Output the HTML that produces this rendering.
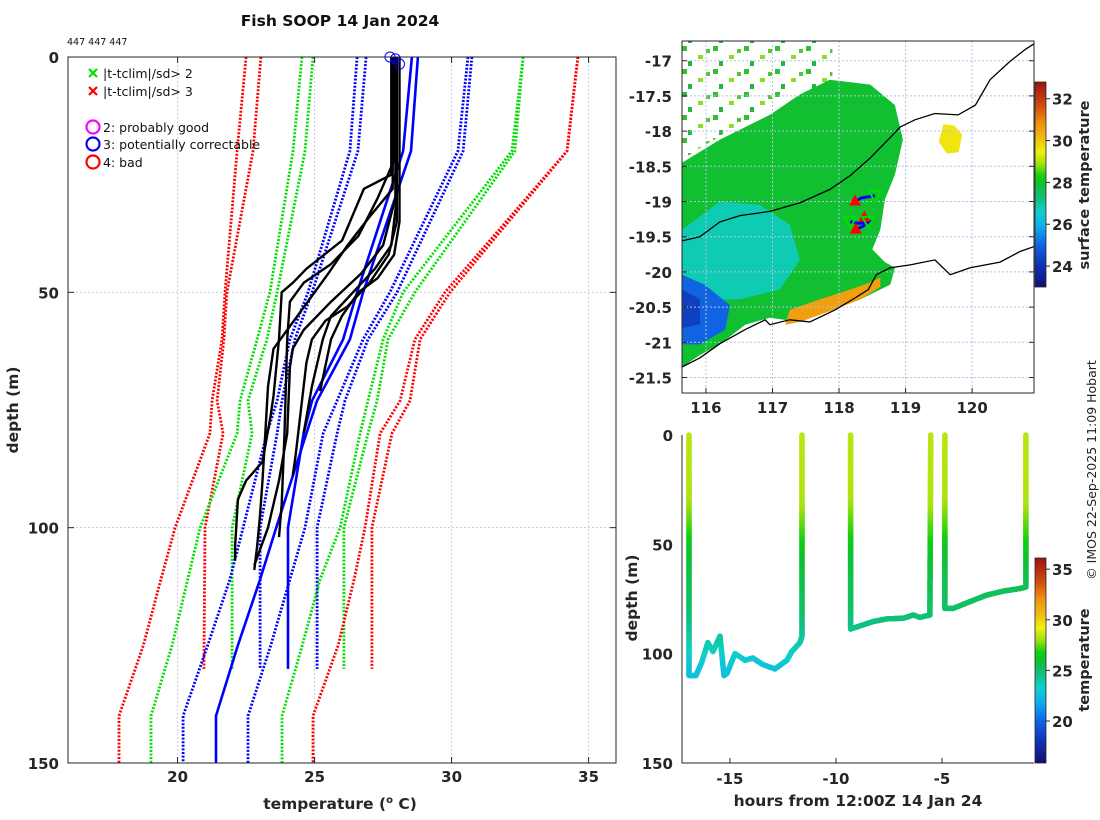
<!DOCTYPE html>
<html><head><meta charset="utf-8"><title>Fish SOOP 14 Jan 2024</title>
<style>
html,body{margin:0;padding:0;background:#fff;}
svg{display:block;font-family:"DejaVu Sans","Liberation Sans",sans-serif;}
.tk{font-size:15px;font-weight:bold;fill:#262626;}
.lb{font-size:15.5px;font-weight:bold;fill:#262626;}
</style></head>
<body>
<svg id="root" width="1100" height="820" viewBox="0 0 1100 820" xmlns="http://www.w3.org/2000/svg">
<defs>
<linearGradient id="cmap" x1="0" y1="1" x2="0" y2="0">
<stop offset="0" stop-color="#101070"/><stop offset="0.1" stop-color="#1030b0"/><stop offset="0.2" stop-color="#1060e0"/>
<stop offset="0.3" stop-color="#10b0f0"/><stop offset="0.37" stop-color="#10d0c8"/><stop offset="0.43" stop-color="#10c080"/>
<stop offset="0.5" stop-color="#10c030"/><stop offset="0.54" stop-color="#10d010"/><stop offset="0.6" stop-color="#a0e010"/>
<stop offset="0.66" stop-color="#f0f010"/><stop offset="0.72" stop-color="#f0c010"/><stop offset="0.8" stop-color="#f09010"/>
<stop offset="0.88" stop-color="#d05010"/><stop offset="1" stop-color="#a01010"/>
</linearGradient>
<pattern id="sparse" width="31" height="23" patternUnits="userSpaceOnUse">
<rect x="0" y="0" width="5" height="5" fill="#30c030"/><rect x="16" y="9" width="5" height="4" fill="#90dc20"/>
<rect x="6" y="15" width="4" height="5" fill="#20b840"/><rect x="24" y="3" width="4" height="4" fill="#50c830"/>
</pattern>
<clipPath id="mapclip"><rect x="682" y="41" width="352" height="352"/></clipPath>
<clipPath id="leftclip"><rect x="68" y="57" width="548" height="706"/></clipPath>
</defs>

<text x="340" y="26" text-anchor="middle" style="font-size:15.5px;font-weight:bold;fill:#111">Fish SOOP 14 Jan 2024</text>
<text x="67" y="45" style="font-size:9.5px;fill:#111">447 447 447</text>

<g id="left"></g>
<g id="map"></g>
<g id="bottom"></g>

<text transform="translate(1096,470) rotate(-90)" text-anchor="middle" style="font-size:12.5px;fill:#222">© IMOS 22-Sep-2025 11:09 Hobart</text>
</svg>

<script>
// ===== LEFT PANEL DATA =====
const depthA = [0, 20, 50, 60, 73, 80, 100, 111, 125, 140, 150];
const redLoA   = [22.50, 22.17, 21.73, 21.62, 21.26, 21.18, 19.91, 19.39, 18.75, 17.86, 17.86];
const greenLoA = [24.54, 24.21, 23.37, 22.90, 22.28, 22.17, 20.82, 20.37, 19.80, 19.03, 19.03];
const blueLoA  = [26.55, 26.29, 24.76, 24.10, 23.63, 23.26, 22.39, 21.91, 21.10, 20.20, 20.20];
const meanA    = [28.77, 28.52, 26.77, 26.29, 25.09, 24.70, 23.60, 23.01, 22.20, 21.40, 21.40];
const blueHiA  = [30.60, 30.23, 27.75, 26.77, 25.82, 25.31, 24.65, 24.10, 23.40, 22.57, 22.57];
const greenHiA = [32.61, 32.20, 28.23, 27.50, 26.95, 26.66, 25.93, 25.20, 24.55, 23.81, 23.81];
const redHiA   = [34.61, 34.21, 29.76, 28.66, 28.12, 27.39, 26.84, 26.44, 25.86, 24.94, 24.94];

const depthB = [0, 20, 50, 60, 73, 80, 100, 130];
const redLoB   = [23.04, 22.75, 21.80, 21.69, 21.44, 21.66, 21.00, 20.96];
const greenLoB = [24.94, 24.65, 23.63, 23.26, 22.57, 22.72, 21.99, 21.99];
const blueLoB  = [26.88, 26.58, 24.91, 24.28, 23.81, 23.63, 23.01, 23.01];
const meanB    = [28.55, 28.23, 26.55, 26.04, 24.91, 24.60, 24.03, 24.03];
const blueHiB  = [30.74, 30.42, 28.01, 26.95, 26.11, 25.82, 25.09, 25.09];
const greenHiB = [32.61, 32.31, 28.66, 27.68, 27.28, 26.95, 26.07, 26.07];
const redHiB   = [34.61, 34.21, 29.94, 28.85, 28.48, 27.82, 27.09, 27.09];

const p1Depth = [0,25,28,39,45,48,50,60,72,76,86,90,94,104,107];
const p1Temp  = [27.8,27.8,26.8,26.0,24.7,24.2,23.8,23.7,23.5,23.4,23.1,22.5,22.2,22.1,22.1];
const p2Depth = [0,22,30,38,44,48,52,60,80,95,102];
const p2Temp  = [27.9,27.9,27.3,26.6,25.6,24.6,24.1,24.0,23.9,23.8,23.7];
const p3Depth = [0,30,40,46,52,58,62,66,80,90,100,108];
const p3Temp  = [27.95,27.95,27.5,26.7,25.6,24.6,24.2,24.1,24.0,23.7,23.3,22.8];
const p4Depth = [0,35,42,48,53,56,60,65,75,85,89];
const p4Temp  = [28.0,28.0,27.7,27.0,26.2,25.4,24.9,24.7,24.5,24.3,24.2];
const p5Depth = [0,30,40,45,50,55,60,70,80];
const p5Temp  = [28.0,28.0,27.8,27.2,26.4,25.6,25.3,24.9,24.6];
const p6Depth = [0,35,42,47,50,55,60,71];
const p6Temp  = [28.1,28.1,27.9,27.3,26.6,26.0,25.6,25.2];
const p7Depth = [0,28,34,40,46,50,54,58,62,70,80,90,98,104,109];
const p7Temp  = [27.85,27.85,27.0,26.2,25.5,25.0,24.5,24.0,23.5,23.3,23.2,23.1,23.0,22.9,22.8];

const flagTemp  = [27.75, 27.95, 28.1];
const flagDepth = [0, 0.4, 1.5];

const tempTicks  = [20, 25, 30, 35];
const depthTicks = [0, 50, 100, 150];

// ===== MAP DATA =====
const lonTicks = [116, 117, 118, 119, 120];
const latTicks = [-17, -17.5, -18, -18.5, -19, -19.5, -20, -20.5, -21, -21.5];
const sstTicks = [24, 26, 28, 30, 32];
const coastNLon = [115.64,115.91,116.21,116.51,116.96,117.41,117.86,118.17,118.47,118.77,118.92,119.14,119.44,119.79,120.05,120.27,120.57,120.80,120.93];
const coastNLat = [-19.56,-19.50,-19.29,-19.20,-19.14,-19.02,-18.83,-18.63,-18.38,-18.09,-17.94,-17.84,-17.75,-17.77,-17.63,-17.27,-17.01,-16.84,-16.76];
const coastSLon = [115.64,115.91,116.21,116.59,116.89,116.96,117.26,117.56,117.94,118.24,118.44,118.56,118.77,119.07,119.44,119.67,119.97,120.42,120.72,120.93];
const coastSLat = [-21.35,-21.22,-21.02,-20.82,-20.68,-20.75,-20.68,-20.71,-20.54,-20.37,-20.25,-20.04,-19.94,-19.90,-19.83,-20.04,-19.94,-19.86,-19.71,-19.64];
const greenLon = [115.64,116.21,116.96,117.41,117.86,118.47,118.84,118.96,118.84,118.69,118.62,118.50,118.69,118.84,118.77,118.32,117.41,116.96,116.59,116.21,115.91,115.64];
const greenLat = [-18.45,-18.12,-17.77,-17.48,-17.27,-17.34,-17.63,-18.12,-18.62,-18.97,-19.40,-19.68,-19.86,-19.94,-20.18,-20.39,-20.71,-20.65,-20.75,-21.03,-21.18,-21.35];
const cyanLon = [115.64,116.21,116.81,117.26,117.41,117.11,116.51,115.91,115.64];
const cyanLat = [-19.40,-19.00,-19.05,-19.33,-19.83,-20.25,-20.39,-20.39,-20.39];
const blueLon = [115.64,115.98,116.36,116.29,115.91,115.64];
const blueLat = [-20.04,-20.18,-20.47,-20.82,-21.03,-21.03];
const dBlueLon = [115.64,115.91,115.91,115.64];
const dBlueLat = [-20.25,-20.39,-20.74,-20.80];
const orangeLon = [117.26,117.71,118.17,118.47,118.62,118.62,118.32,117.86,117.41,117.19];
const orangeLat = [-20.54,-20.39,-20.25,-20.15,-20.08,-20.21,-20.39,-20.56,-20.71,-20.75];
const yellowLon = [119.57,119.73,119.85,119.80,119.62,119.50];
const yellowLat = [-17.90,-17.92,-18.05,-18.30,-18.32,-18.15];
const fieldTemp = [27.9, 26.8, 25.0, 24.3, 30.6, 29.6];
const upLon = [118.24,118.25,118.38];
const upLat = [-19.00,-19.40,-19.23];
const downLon = [118.54,118.44,118.17];
const downLat = [-18.92,-19.29,-19.29];
const trackLon = [118.25,118.33,118.45,118.54, null, 118.17,118.30,118.44,118.36,118.25];
const trackLat = [-19.00,-18.95,-18.93,-18.92, null, -19.29,-19.31,-19.29,-19.35,-19.40];

// ===== DEPTH-TIME DATA =====
const castTime  = [-16.93,-16.93,-16.6,-16.33,-16.04,-15.8,-15.47,-15.28,-15.14,-14.76,-14.29,-13.92,-13.44,-12.88,-12.31,-12.08,-11.70,-11.60,-11.60, null,
                   -9.31,-9.31,-8.24,-7.61,-6.83,-6.35,-6.04,-5.57,-5.53, null,
                   -4.86,-4.86,-4.47,-3.68,-2.89,-2.11,-1.32,-1.04,-1.04];
const castDepth = [0,110,110,104,95,99,92,110,109,100,103,102,105,107,103,99,95,92,0, null,
                   0,88.7,85.3,84.1,83.8,82.3,83.4,82.3,0, null,
                   0,79.3,79.3,76.2,73.2,71.4,70.2,69.5,0];
const tprofDepth = [0, 30, 45, 55, 70, 80, 95, 105, 110];
const tprofTemp  = [28.4, 28.2, 27.0, 26.0, 25.3, 25.0, 23.8, 22.8, 22.6];
const hourTicks = [-15, -10, -5];
const cbTicks = [20, 25, 30, 35];

// ===== helpers =====
const NS = "http://www.w3.org/2000/svg";
function mk(tag, attrs, parent){ const e=document.createElementNS(NS,tag); for(const k in attrs) e.setAttribute(k,attrs[k]); parent.appendChild(e); return e; }
function interp(xs, ys, x){ if(x<=xs[0]) return ys[0]; for(let i=1;i<xs.length;i++){ if(x<=xs[i]){ const f=(x-xs[i-1])/(xs[i]-xs[i-1]); return ys[i-1]+f*(ys[i]-ys[i-1]); } } return ys[ys.length-1]; }
const cstops = [[0,[16,16,112]],[0.1,[16,48,176]],[0.2,[16,96,224]],[0.3,[16,176,240]],[0.37,[16,208,200]],[0.43,[16,192,128]],[0.5,[16,192,48]],[0.54,[16,208,16]],[0.6,[160,224,16]],[0.66,[240,240,16]],[0.72,[240,192,16]],[0.8,[240,144,16]],[0.88,[208,80,16]],[1,[160,16,16]]];
function cmap(f){ f=Math.max(0,Math.min(1,f)); for(let i=1;i<cstops.length;i++){ if(f<=cstops[i][0]){ const a=cstops[i-1],b=cstops[i]; const t=(f-a[0])/(b[0]-a[0]); const c=a[1].map((v,j)=>Math.round(v+t*(b[1][j]-v))); return `rgb(${c[0]},${c[1]},${c[2]})`; } } return "rgb(160,16,16)"; }

// ===== LEFT PANEL =====
(function(){
  const g = document.getElementById('left');
  const T0=16, T1=36, D0=0, D1=150, X0=68, X1=616, Y0=57, Y1=763;
  const xT = t => X0 + (t-T0)/(T1-T0)*(X1-X0);
  const yD = d => Y0 + (d-D0)/(D1-D0)*(Y1-Y0);
  tempTicks.forEach(t=>{ const l=mk('line',{x1:xT(t),x2:xT(t),y1:Y0,y2:Y1,stroke:'#c4cce6','stroke-width':1,'stroke-dasharray':'2 2'},g);
      });
  depthTicks.slice(1,3).forEach(d=>{ const l=mk('line',{x1:X0,x2:X1,y1:yD(d),y2:yD(d),stroke:'#c4cce6','stroke-width':1,'stroke-dasharray':'2 2'},g);
      });
  const cg = mk('g',{'clip-path':'url(#leftclip)'},g);
  function line(ds, ts, color, dashed, w, name){
    const pts = ds.map((d,i)=>xT(ts[i]).toFixed(1)+','+yD(d).toFixed(1)).join(' ');
    const p = mk('polyline',{points:pts,fill:'none',stroke:color,'stroke-width':w,'stroke-linejoin':'round'},cg);
    if(dashed) p.setAttribute('stroke-dasharray','2 1.6');
    
    
  }
  line(depthA, redLoA, '#ff0000', true, 2.8, 'clim-minus-3sd-a');
  line(depthB, redLoB, '#ff0000', true, 2.8, 'clim-minus-3sd-b');
  line(depthA, greenLoA, '#00e000', true, 2.8, 'clim-minus-2sd-a');
  line(depthB, greenLoB, '#00e000', true, 2.8, 'clim-minus-2sd-b');
  line(depthA, blueLoA, '#0000ff', true, 2.8, 'clim-minus-1sd-a');
  line(depthB, blueLoB, '#0000ff', true, 2.8, 'clim-minus-1sd-b');
  line(depthA, blueHiA, '#0000ff', true, 2.8, 'clim-plus-1sd-a');
  line(depthB, blueHiB, '#0000ff', true, 2.8, 'clim-plus-1sd-b');
  line(depthA, greenHiA, '#00e000', true, 2.8, 'clim-plus-2sd-a');
  line(depthB, greenHiB, '#00e000', true, 2.8, 'clim-plus-2sd-b');
  line(depthA, redHiA, '#ff0000', true, 2.8, 'clim-plus-3sd-a');
  line(depthB, redHiB, '#ff0000', true, 2.8, 'clim-plus-3sd-b');
  line(depthA, meanA, '#0000ff', false, 2.6, 'clim-mean-a');
  line(depthB, meanB, '#0000ff', false, 2.6, 'clim-mean-b');
  line(p1Depth,p1Temp,'#000',false,2.4,'xbt-profile-1');
  line(p2Depth,p2Temp,'#000',false,2.4,'xbt-profile-2');
  line(p3Depth,p3Temp,'#000',false,2.4,'xbt-profile-3');
  line(p4Depth,p4Temp,'#000',false,2.4,'xbt-profile-4');
  line(p5Depth,p5Temp,'#000',false,2.4,'xbt-profile-5');
  line(p6Depth,p6Temp,'#000',false,2.4,'xbt-profile-6');
  line(p7Depth,p7Temp,'#000',false,2.4,'xbt-profile-7');
  flagTemp.forEach((t,i)=>{ const c=mk('circle',{cx:xT(t),cy:yD(flagDepth[i]),r:5,fill:'none',stroke:'#0000ff','stroke-width':1},g);
      });
  const b=mk('rect',{x:X0,y:Y0,width:X1-X0,height:Y1-Y0,fill:'none',stroke:'#262626','stroke-width':1},g);
   
  tempTicks.forEach(t=>{
    mk('line',{x1:xT(t),x2:xT(t),y1:Y1,y2:Y1-6,stroke:'#262626'},g); mk('line',{x1:xT(t),x2:xT(t),y1:Y0,y2:Y0+6,stroke:'#262626'},g);
    const tx=mk('text',{x:xT(t),y:Y1+19,'text-anchor':'middle',class:'tk'},g); tx.textContent=t;
      });
  depthTicks.forEach(d=>{
    mk('line',{x1:X0,x2:X0+6,y1:yD(d),y2:yD(d),stroke:'#262626'},g); mk('line',{x1:X1,x2:X1-6,y1:yD(d),y2:yD(d),stroke:'#262626'},g);
    const tx=mk('text',{x:X0-9,y:yD(d)+6,'text-anchor':'end',class:'tk'},g); tx.textContent=d;
      });
  const xl=mk('text',{x:340,y:809,'text-anchor':'middle',class:'lb'},g);
  xl.innerHTML='temperature (<tspan dy="-6" font-size="10">o</tspan><tspan dy="6"> C)</tspan>';
   
  const yl=mk('text',{transform:'translate(18,410) rotate(-90)','text-anchor':'middle',class:'lb'},g); yl.textContent='depth (m)';
   
  const lg=mk('g',{},g);  
  function xmark(x,y,c){ mk('path',{d:`M${x-4},${y-4}L${x+4},${y+4}M${x-4},${y+4}L${x+4},${y-4}`,stroke:c,'stroke-width':2.2},lg); }
  function ltext(x,y,s,name){ const t=mk('text',{x:x,y:y,style:'font-size:12.5px;fill:#111'},lg); t.textContent=s;   }
  xmark(93,73,'#00e000'); ltext(103,78,'|t-tclim|/sd> 2','legend-entry-2sd');
  xmark(93,91,'#ff0000'); ltext(103,96,'|t-tclim|/sd> 3','legend-entry-3sd');
  [['#ff00ff',127,'2: probably good','legend-entry-flag-2'],['#0000ff',144,'3: potentially correctable','legend-entry-flag-3'],['#ff0000',162,'4: bad','legend-entry-flag-4']].forEach(a=>{
    mk('circle',{cx:93,cy:a[1],r:6.5,fill:'none',stroke:a[0],'stroke-width':2.2},lg); ltext(103,a[1]+5,a[2],a[3]); });
})();

// ===== MAP =====
(function(){
  const g=document.getElementById('map');
  const LON0=115.64, LON1=120.93, LAT0=-16.72, LAT1=-21.72, X0=682, X1=1034, Y0=41, Y1=393;
  const xL = lon => X0 + (lon-LON0)/(LON1-LON0)*(X1-X0);
  const yL = lat => Y0 + (LAT0-lat)/(LAT0-LAT1)*(Y1-Y0);
  const sst = t => cmap((t-23)/(32.8-23));
  const cg=mk('g',{'clip-path':'url(#mapclip)'},g);
  const sp=mk('polygon',{points:`${X0},${Y0} ${xL(117.9)},${Y0} ${xL(117.9)},${yL(-17.3)} ${xL(116.5)},${yL(-17.9)} ${X0},${yL(-18.4)}`,fill:'url(#sparse)'},cg);
   
  function poly(lons,lats,temp,name){ const p=mk('polygon',{points:lons.map((l,i)=>xL(l).toFixed(1)+','+yL(lats[i]).toFixed(1)).join(' '),fill:sst(temp)},cg);
      }
  poly(greenLon,greenLat,fieldTemp[0],'sst-field-main');
  poly(cyanLon,cyanLat,fieldTemp[1],'sst-field-cool');
  poly(blueLon,blueLat,fieldTemp[2],'sst-field-cold');
  poly(dBlueLon,dBlueLat,fieldTemp[3],'sst-field-coldest');
  poly(orangeLon,orangeLat,fieldTemp[4],'sst-field-warm-coastal');
  poly(yellowLon,yellowLat,fieldTemp[5],'sst-field-warm-offshore');
  lonTicks.forEach(l=>{ mk('line',{x1:xL(l),x2:xL(l),y1:Y0,y2:Y1,stroke:'#b8c0e0','stroke-dasharray':'2 2'},cg); });
  latTicks.forEach(l=>{ mk('line',{x1:X0,x2:X1,y1:yL(l),y2:yL(l),stroke:'#b8c0e0','stroke-dasharray':'2 2'},cg); });
  function pl(lons,lats,name){ const p=mk('polyline',{points:lons.map((l,i)=>xL(l).toFixed(1)+','+yL(lats[i]).toFixed(1)).join(' '),fill:'none',stroke:'#000','stroke-width':1.3},cg);
      }
  pl(coastNLon,coastNLat,'isobath-line'); pl(coastSLon,coastSLat,'coastline');
  let d=''; let pen=false;
  trackLon.forEach((l,i)=>{ if(l===null){pen=false;return;} d+=(pen?'L':'M')+xL(l).toFixed(1)+','+yL(trackLat[i]).toFixed(1); pen=true; });
  const tr=mk('path',{d:d,fill:'none',stroke:'#0000ff','stroke-width':3},cg);  
  upLon.forEach((l,i)=>{ const x=xL(l),y=yL(upLat[i]); const p=mk('polygon',{points:`${x},${y-7} ${x-6},${y+4} ${x+6},${y+4}`,fill:'#ff0000'},cg);
      });
  downLon.forEach((l,i)=>{ const x=xL(l),y=yL(downLat[i]); const p=mk('polygon',{points:`${x-6},${y-5} ${x+6},${y-5} ${x},${y+6}`,fill:'none',stroke:'#00e000','stroke-width':2},cg);
      });
  const fr=mk('rect',{x:X0,y:Y0,width:X1-X0,height:Y1-Y0,fill:'none',stroke:'#262626'},g);  
  lonTicks.forEach(l=>{ mk('line',{x1:xL(l),x2:xL(l),y1:Y1,y2:Y1-5,stroke:'#262626'},g);
    const t=mk('text',{x:xL(l),y:Y1+20,'text-anchor':'middle',class:'tk'},g); t.textContent=l;
      });
  latTicks.forEach(l=>{ mk('line',{x1:X0,x2:X0+5,y1:yL(l),y2:yL(l),stroke:'#262626'},g); mk('line',{x1:X1,x2:X1-5,y1:yL(l),y2:yL(l),stroke:'#262626'},g);
    const t=mk('text',{x:X0-10,y:yL(l)+6,'text-anchor':'end',class:'tk'},g); t.textContent=l;
      });
  const cy = t => 287 - (t-23)/(32.8-23)*205;
  const cb=mk('rect',{x:1035,y:82,width:11,height:205,fill:'url(#cmap)',stroke:'#262626','stroke-width':0.8},g);
   
  sstTicks.forEach(t=>{ mk('line',{x1:1046,x2:1050,y1:cy(t),y2:cy(t),stroke:'#262626'},g);
    const tx=mk('text',{x:1052,y:cy(t)+6,class:'tk'},g); tx.textContent=t;
      });
  const lt=mk('text',{transform:'translate(1089,185) rotate(-90)','text-anchor':'middle',class:'lb',style:'font-size:14.5px'},g); lt.textContent='surface temperature';
   
})();

// ===== DEPTH-TIME PANEL =====
(function(){
  const g=document.getElementById('bottom');
  const T0=-17.26, T1=-0.66, D0=0, D1=150, X0=682, X1=1034, Y0=435, Y1=763;
  const xH = t => X0 + (t-T0)/(T1-T0)*(X1-X0);
  const yD = d => Y0 + (d-D0)/(D1-D0)*(Y1-Y0);
  const CT0=15.85, CT1=36.1;
  const col = t => cmap((t-CT0)/(CT1-CT0));
  const pg=mk('g',{},g);  
  for(let i=1;i<castTime.length;i++){
    if(castTime[i]===null||castTime[i-1]===null) continue;
    const xa=xH(castTime[i-1]),ya=yD(castDepth[i-1]),xb=xH(castTime[i]),yb=yD(castDepth[i]);
    const n=Math.max(1,Math.ceil(Math.hypot(xb-xa,yb-ya)/2));
    for(let k=0;k<n;k++){
      const f0=k/n,f1=(k+1)/n;
      const dm=castDepth[i-1]+(castDepth[i]-castDepth[i-1])*(f0+f1)/2;
      mk('line',{x1:(xa+(xb-xa)*f0).toFixed(1),y1:(ya+(yb-ya)*f0).toFixed(1),x2:(xa+(xb-xa)*f1).toFixed(1),y2:(ya+(yb-ya)*f1).toFixed(1),stroke:col(interp(tprofDepth,tprofTemp,dm)),'stroke-width':5.5,'stroke-linecap':'round'},pg);
    }
  }
  const ax=mk('path',{d:`M${X0},${Y0}L${X0},${Y1}L${X1},${Y1}`,fill:'none',stroke:'#262626'},g);
   
  hourTicks.forEach(h=>{ mk('line',{x1:xH(h),x2:xH(h),y1:Y1,y2:Y1-5,stroke:'#262626'},g);
    const t=mk('text',{x:xH(h),y:Y1+21,'text-anchor':'middle',class:'tk'},g); t.textContent=h;
      });
  depthTicks.forEach(d=>{ const t=mk('text',{x:X0-9,y:yD(d)+6,'text-anchor':'end',class:'tk'},g); t.textContent=d;
      });
  const xl=mk('text',{x:858,y:806,'text-anchor':'middle',class:'lb'},g); xl.textContent='hours from 12:00Z 14 Jan 24';
   
  const yl=mk('text',{transform:'translate(637,598) rotate(-90)','text-anchor':'middle',class:'lb'},g); yl.textContent='depth (m)';
   
  const cy = t => 763 - (t-CT0)/(CT1-CT0)*205;
  const cb=mk('rect',{x:1035,y:558,width:11,height:205,fill:'url(#cmap)',stroke:'#262626','stroke-width':0.8},g);
   
  cbTicks.forEach(t=>{ mk('line',{x1:1046,x2:1050,y1:cy(t),y2:cy(t),stroke:'#262626'},g);
    const tx=mk('text',{x:1052,y:cy(t)+6,class:'tk'},g); tx.textContent=t;
      });
  const lt=mk('text',{transform:'translate(1089,660) rotate(-90)','text-anchor':'middle',class:'lb',style:'font-size:14.5px'},g); lt.textContent='temperature';
   
})();
</script>
</body></html>
